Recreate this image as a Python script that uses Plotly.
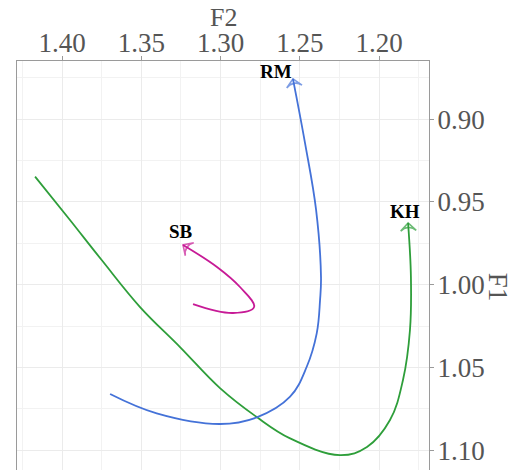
import plotly.graph_objects as go

# Data (F2 on x, F1 on y)
kh_f2 = [1.4170, 1.3950, 1.3750, 1.3508, 1.3256, 1.3004, 1.2772, 1.2562, 1.2247, 1.2077, 1.1932, 1.1850, 1.1806, 1.1800, 1.1818]
kh_f1 = [0.9347, 0.9609, 0.9851, 1.0135, 1.0377, 1.0625, 1.0800, 1.0929, 1.1030, 1.0981, 1.0818, 1.0576, 1.0274, 0.9953, 0.9627]

rm_f2 = [1.3697, 1.3403, 1.3004, 1.2772, 1.2562, 1.2457, 1.2394, 1.2373, 1.2367, 1.2398, 1.2468, 1.2544]
rm_f1 = [1.0661, 1.0778, 1.0842, 1.0802, 1.0677, 1.0496, 1.0294, 1.0093, 0.9953, 0.9548, 0.9143, 0.8756]

sb_f2 = [1.3174, 1.2922, 1.2789, 1.2878, 1.3023, 1.3237]
sb_f1 = [1.0117, 1.0171, 1.0135, 1.0014, 0.9893, 0.9760]

speakers = ["KH", "RM", "SB"]
colors = {"KH": "#2E9E3A", "RM": "#4472D8", "SB": "#C71A96"}
series = {"KH": (kh_f2, kh_f1), "RM": (rm_f2, rm_f1), "SB": (sb_f2, sb_f1)}
label_shift = {"KH": (-3, 11), "RM": (-17, 7), "SB": (-2, 13)}

x_ticks = [1.40, 1.35, 1.30, 1.25, 1.20]
y_ticks = [0.90, 0.95, 1.00, 1.05, 1.10]

FONT = "Liberation Serif"
GREY = "#555555"

fig = go.Figure()
for s in speakers:
    xs, ys = series[s]
    sizes = [0] * (len(xs) - 1) + [11]
    fig.add_trace(go.Scatter(
        x=xs, y=ys, mode="lines+markers",
        line=dict(color=colors[s], width=1.8, shape="spline", smoothing=1.1),
        marker=dict(symbol="arrow-wide-open", size=sizes, angleref="previous",
                    color=colors[s], line=dict(color=colors[s], width=1.6)),
        showlegend=False, hoverinfo="skip"))
    dx, dy = label_shift[s]
    fig.add_annotation(x=xs[-1], y=ys[-1], text="<b>" + s + "</b>", showarrow=False,
                       xshift=dx, yshift=dy,
                       font=dict(family="Liberation Serif", size=19, color="black"))

axis_common = dict(showline=True, linecolor="#9a9a9a", linewidth=1, mirror=True,
                   ticks="outside", tickcolor="#9a9a9a", ticklen=4,
                   gridcolor="#ebebeb", gridwidth=1.2, zeroline=False,
                   tickfont=dict(family=FONT, size=27, color=GREY),
                   tickformat=".2f")

fig.update_xaxes(range=[1.4284, 1.1686], side="top", tickvals=x_ticks, ticklabelstandoff=-7,
                 minor=dict(showgrid=True, gridcolor="#f2f2f2", gridwidth=0.8, dtick=0.025, tick0=1.175),
                 **axis_common)
fig.update_yaxes(range=[1.1120, 0.8648], side="right", tickvals=y_ticks, ticklabelstandoff=-2,
                 minor=dict(showgrid=True, gridcolor="#f2f2f2", gridwidth=0.8, dtick=0.025, tick0=0.875),
                 **axis_common)

fig.add_annotation(xref="paper", yref="paper", x=0.501, y=1.106, xanchor="center", yanchor="middle",
                   text="F2", showarrow=False, font=dict(family=FONT, size=26, color=GREY))
fig.add_annotation(xref="paper", yref="paper", x=1.166, y=0.447, xanchor="center", yanchor="middle",
                   text="F1", textangle=90,
                   showarrow=False, font=dict(family=FONT, size=27, color=GREY))

fig.update_layout(width=512, height=470, plot_bgcolor="white", paper_bgcolor="white",
                  margin=dict(l=17, r=83, t=61, b=0))

fig.write_html("out.html")
